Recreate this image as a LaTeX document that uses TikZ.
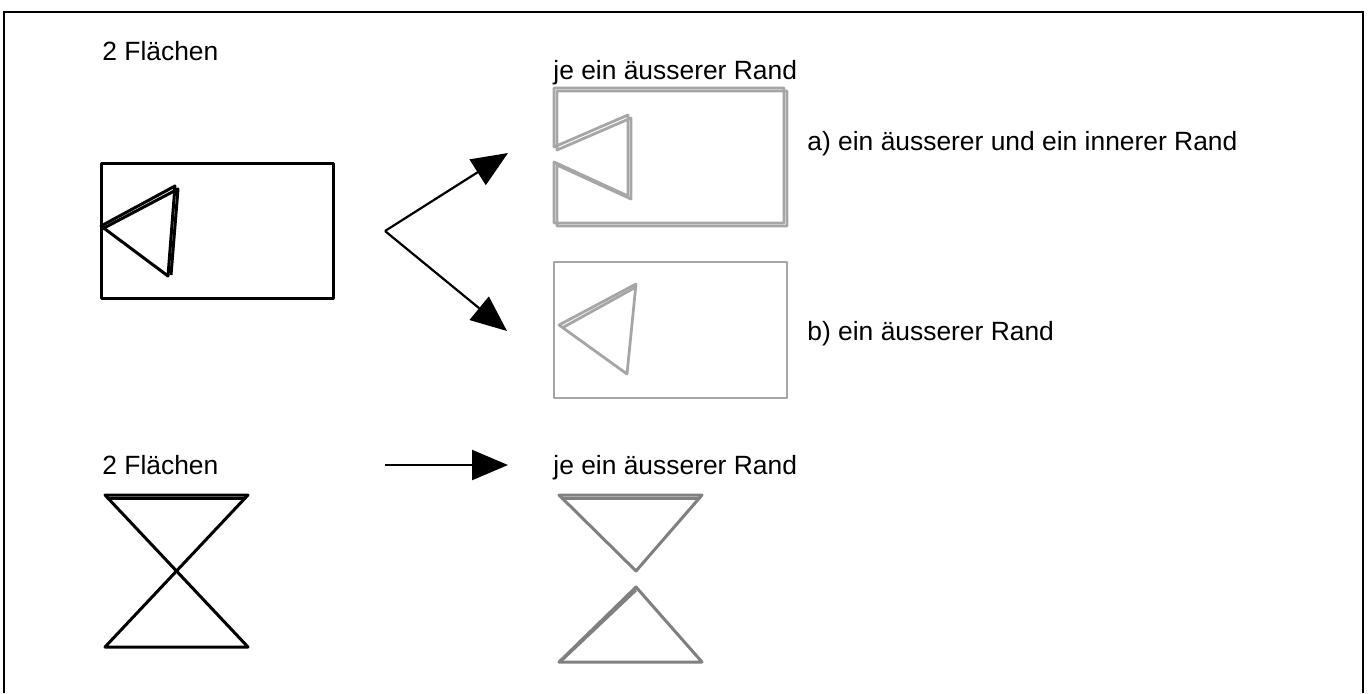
\documentclass[tikz,border=0pt]{standalone}
\usepackage{fontspec}
\setmainfont{Liberation Sans}
\usetikzlibrary{arrows.meta}

\tikzset{
  txtlabel/.style={anchor=base west, inner sep=0pt, font=\fontsize{13.2}{15}\selectfont},
  blackline/.style={line width=1.5pt, line join=round},
  greyline/.style={line width=1.4pt, draw=gray!70, line join=round},
  darkgrey/.style={line width=1.5pt, draw=black!50, line join=round},
  bigarrow/.style={line width=1.1pt, -{Triangle[length=18pt, width=15pt]}},
}

\begin{document}
\begin{tikzpicture}[
    x = 0.5pt,
    y = -0.5pt,
    ]
    \useasboundingbox (0,0) rectangle (1368,693);
    % frame
    \draw[line width=0.6pt] (4,693) -- (4,12) -- (1363,12) -- (1363,693);
    % labels
    \node[txtlabel] (flaechenTop) at (102,60) {2 Flächen};
    \node[txtlabel] (randTop) at (553,79) {je ein äusserer Rand};
    \node[txtlabel] (caseA) at (807,150) {a) ein äusserer und ein innerer Rand};
    \node[txtlabel] (caseB) at (807,340) {b) ein äusserer Rand};
    \node[txtlabel] (flaechenBot) at (102,474) {2 Flächen};
    \node[txtlabel] (randBot) at (553,474) {je ein äusserer Rand};
    % source: rectangle with triangle
    \draw[blackline] (101,163) rectangle (333,298);
    \draw[blackline] (101,226) -- (175,186) -- (168,276) -- cycle;
    \draw[blackline] (102,229) -- (178,189) -- (171,275);
    % arrows
    \coordinate (fork) at (385,231);
    \coordinate (tipA) at (508,153);
    \coordinate (tipB) at (507,331);
    \coordinate (startC) at (385,465);
    \coordinate (tipC) at (508,465);
    \draw[bigarrow] (fork) -- (tipA);
    \draw[bigarrow] (fork) -- (tipB);
    \draw[bigarrow] (startC) -- (tipC);
    % case a
    \foreach \d in {0, 3}
    \draw[greyline, shift={(\d,\d)}]
    (554,88) -- (784,88) -- (784,223) -- (554,223) -- (554,162)
    -- (628,196) -- (628,115) -- (554,147) -- cycle;
    % case b
    \draw[greyline] (554,262) rectangle (787,398);
    \draw[greyline] (559,325) -- (636,284) -- (627,374) -- cycle;
    \draw[greyline] (562,328) -- (636,287);
    % hourglass
    \draw[blackline] (105,495) -- (248,495) -- (105,647) -- (248,647) -- cycle;
    \draw[blackline] (107,498) -- (246,498);
    % split hourglass
    \draw[darkgrey] (559,495) -- (702,495) -- (636,571) -- cycle;
    \draw[darkgrey] (636,587) -- (702,662) -- (559,662) -- cycle;
    \draw[darkgrey] (561,498) -- (700,498);
    \draw[darkgrey] (562,660) -- (636,590);
  \end{tikzpicture}
\end{document}
